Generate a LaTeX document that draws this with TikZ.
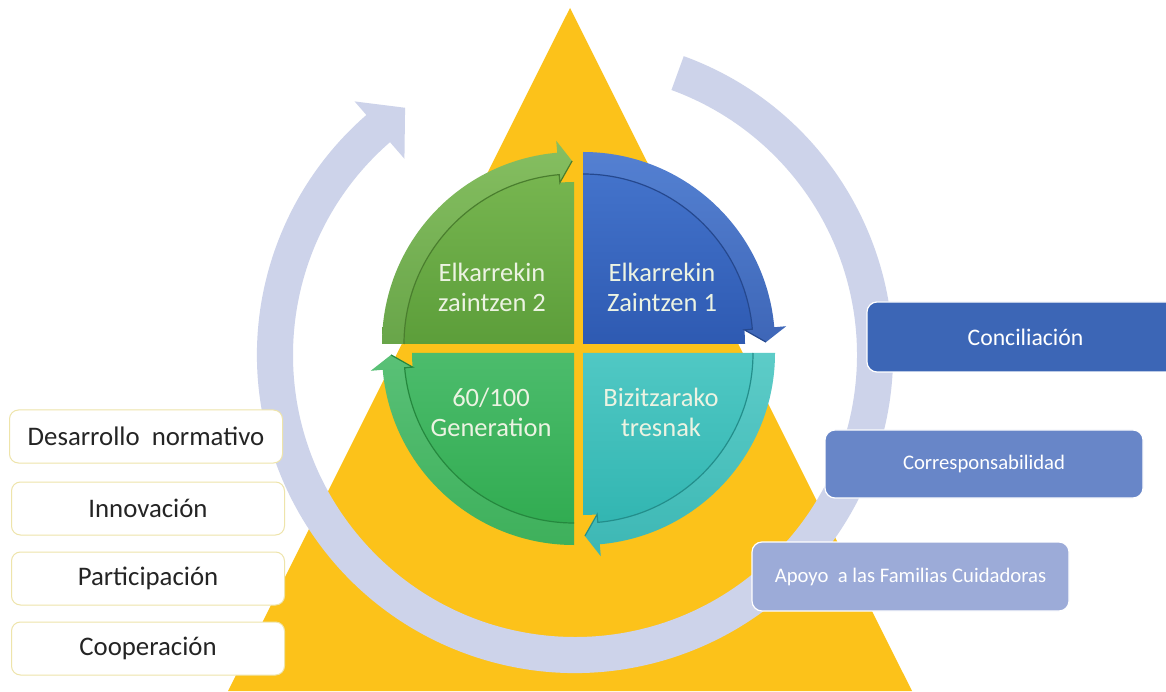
\documentclass[tikz,border=0pt]{standalone}
\usepackage{fontspec}
\setmainfont{Carlito}
\usetikzlibrary{calc}

\definecolor{pyramid}{RGB}{252,194,26}
\definecolor{cycle}{RGB}{205,211,234}
\definecolor{tlTop}{RGB}{124,186,84}
\definecolor{tlBot}{RGB}{92,158,58}
\definecolor{trTop}{RGB}{70,118,206}
\definecolor{trBot}{RGB}{46,90,178}
\definecolor{brTop}{RGB}{80,200,196}
\definecolor{brBot}{RGB}{44,178,174}
\definecolor{blTop}{RGB}{76,188,108}
\definecolor{blBot}{RGB}{46,170,78}
\definecolor{piletext}{RGB}{236,243,226}
\definecolor{boxline}{RGB}{238,228,170}
\definecolor{boxtext}{RGB}{36,36,36}
\definecolor{concil}{RGB}{60,102,182}
\definecolor{corres}{RGB}{104,134,200}
\definecolor{apoyo}{RGB}{156,171,216}

% one quarter of the wheel, with its rim drawn as a clockwise arrow
% #1 corner, #2 start angle, #3 top colour, #4 bottom colour, #5 rim edge colour
\newcommand\drawquarter[5]{%
  \pgfmathsetmacro\qe{#2-90}%
  \pgfmathsetmacro\qw{\qe+5}%
  \pgfmathsetmacro\qt{\qe+0.6}%
  \shade[top color=#3, bottom color=#4]
    (#1) -- ($(#1)+(#2:192)$) arc[start angle=#2, end angle=\qw, radius=192]
    -- ($(#1)+(\qw:204)$) -- ($(#1)+(\qt:183)$) -- ($(#1)+(\qw:162)$)
    arc[start angle=\qw, end angle=\qe, radius=162] -- cycle;
  \fill[white, opacity=0.08]
    ($(#1)+(#2:192)$) arc[start angle=#2, end angle=\qw, radius=192]
    -- ($(#1)+(\qw:204)$) -- ($(#1)+(\qt:183)$) -- ($(#1)+(\qw:162)$)
    -- ($(#1)+(\qw:170)$) arc[start angle=\qw, end angle=#2, radius=170] -- cycle;
  \draw[#5, line width=1.2]
    ($(#1)+(#2:170)$) arc[start angle=#2, end angle=\qw, radius=170]
    -- ($(#1)+(\qw:162)$) -- ($(#1)+(\qt:183)$);
}

\tikzset{
  piletxt/.style={text=piletext, align=center, inner sep=0pt,
    font=\fontsize{26.5}{30}\selectfont},
  leftbox/.style={draw=boxline, line width=1, fill=white, rounded corners=9,
    minimum width=273, minimum height=53, text=boxtext,
    font=\fontsize{26.8}{30}\selectfont},
  rightbox/.style={draw=white, line width=1.2, rounded corners=10,
    minimum width=317, minimum height=69, text=white},
}

\begin{document}
\begin{tikzpicture}[x=1pt, y=1pt]
\useasboundingbox (0,0) rectangle (1166,691);
\fill[white] (0,0) rectangle (1166,691);
\clip (0,0) rectangle (1166,691);

% pyramid in the background
\fill[pyramid] (570,683) -- (912,0) -- (228,0) -- cycle;

% large clockwise cycle arrow
\coordinate (R) at (575,336);
\fill[cycle]
  ($(R)+(70:318)$) arc[start angle=70, end angle=-229, radius=318]
  -- ($(R)+(-229:336)$) -- ($(R)+(-235.5:300)$) -- ($(R)+(-229:260)$)
  -- ($(R)+(-229:282)$) arc[start angle=-229, end angle=70, radius=282] -- cycle;

% the four-part wheel
\coordinate (TL) at (574,347);
\coordinate (TR) at (583,347);
\coordinate (BR) at (583,338);
\coordinate (BL) at (574,338);
\drawquarter{TL}{180}{tlTop}{tlBot}{tlBot!80!black}
\drawquarter{TR}{90}{trTop}{trBot}{trBot!80!black}
\drawquarter{BR}{0}{brTop}{brBot}{brBot!80!black}
\drawquarter{BL}{-90}{blTop}{blBot}{blBot!80!black}

\node[piletxt] (q1) at (492,404) {Elkarrekin\\zaintzen 2};
\node[piletxt] (q2) at (662,404) {Elkarrekin\\Zaintzen 1};
\node[piletxt] (q3) at (491,279) {60/100\\Generation};
\node[piletxt] (q4) at (661,279) {Bizitzarako\\tresnak};

% principles on the left
\node[leftbox] (b1) at (146,254.5) {Desarrollo~~normativo};
\node[leftbox] (b2) at (148,182.5) {Innovación};
\node[leftbox] (b3) at (148,112.5) {Participación};
\node[leftbox] (b4) at (148,42.5) {Cooperación};

% areas on the right
\node[rightbox, fill=concil, minimum height=70,
  font=\fontsize{23.7}{28}\selectfont] (r1) at (1025.5,354) {Conciliación};
\node[rightbox, fill=corres, minimum width=318, minimum height=68,
  font=\fontsize{20.7}{24}\selectfont] (r2) at (984,227) {Corresponsabilidad};
\node[rightbox, fill=apoyo,
  font=\fontsize{20.7}{24}\selectfont] (r3) at (910.5,114.5) {Apoyo~~a las Familias Cuidadoras};
\end{tikzpicture}
\end{document}
